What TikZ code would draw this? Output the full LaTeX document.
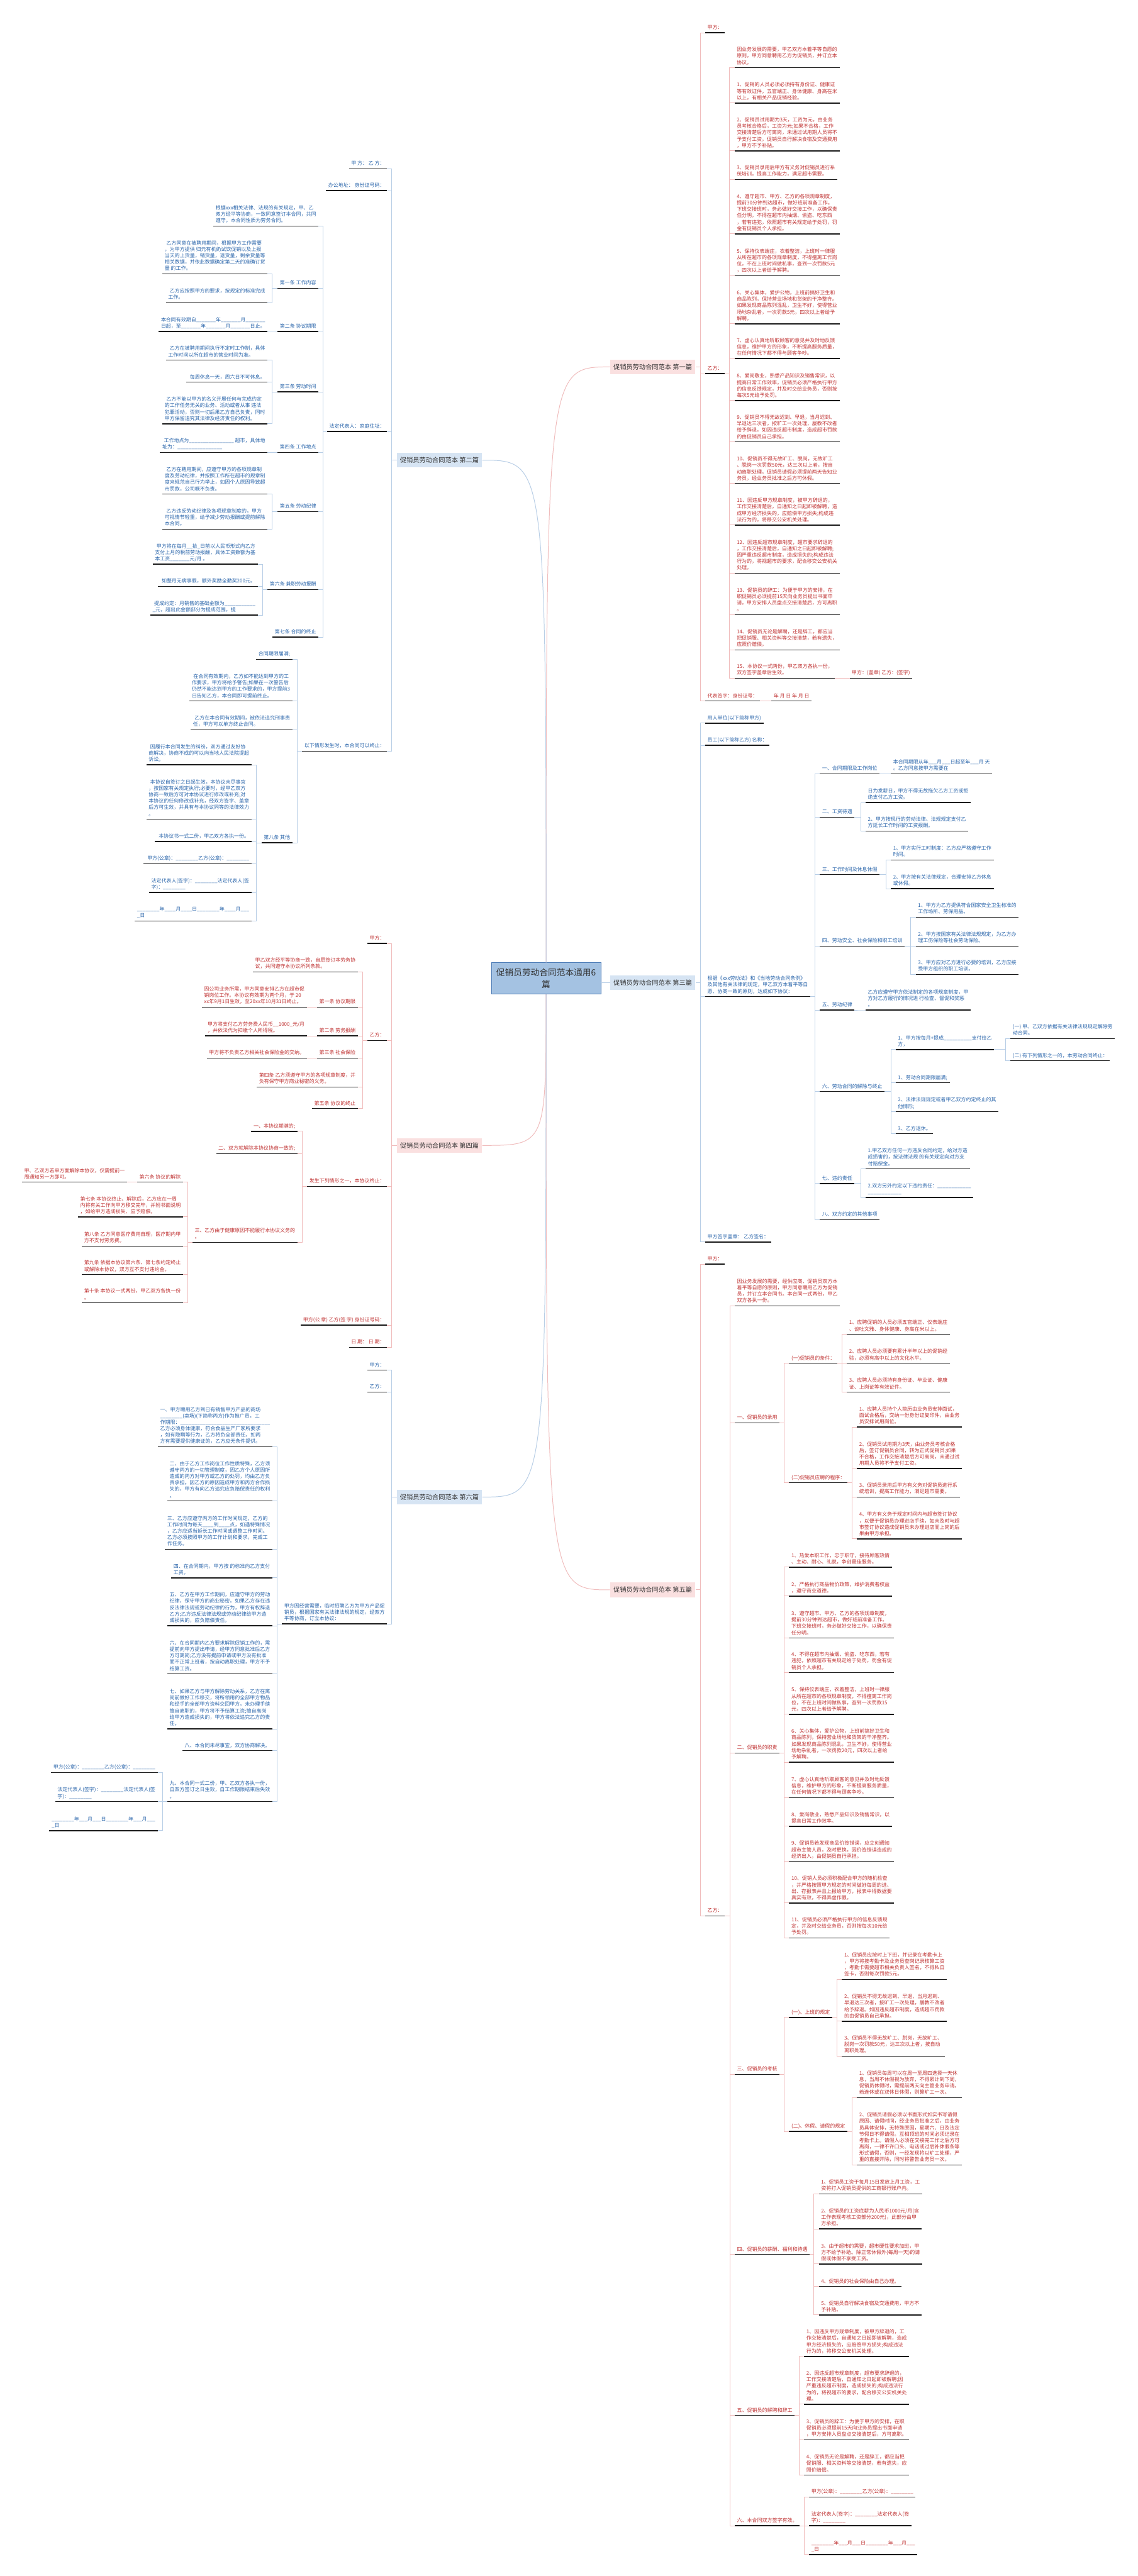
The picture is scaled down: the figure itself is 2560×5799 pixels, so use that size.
\documentclass[tikz,border=0pt]{standalone}
\usepackage{fontspec}
\setmainfont{Noto Sans CJK SC}
\definecolor{rtxt}{RGB}{192,50,50}
\definecolor{btxt}{RGB}{40,100,170}
\definecolor{rline}{RGB}{240,188,188}
\definecolor{bline}{RGB}{184,206,230}
\definecolor{rfill}{RGB}{250,224,224}
\definecolor{bfill}{RGB}{214,228,243}
\definecolor{cfill}{RGB}{164,194,226}
\definecolor{cdraw}{RGB}{74,122,181}
\definecolor{ulc}{RGB}{25,25,25}
\definecolor{lbtxt}{RGB}{51,51,51}
\tikzset{
 uline/.style={draw=ulc,line width=2pt},
 leaf/.style={inner xsep=5pt,inner ysep=3.4pt,align=left,font=\fontsize{11.3}{14.4}\selectfont,
   execute at begin node=\strut,execute at end node=\strut,
   append after command={(\tikzlastnode.south west) edge[uline] (\tikzlastnode.south east)}},
 rr/.style={leaf,text=rtxt,anchor=south west},
 rl/.style={leaf,text=rtxt,anchor=south east},
 br/.style={leaf,text=btxt,anchor=south west},
 bl/.style={leaf,text=btxt,anchor=south east},
 lab/.style={minimum width=192pt,minimum height=33pt,inner sep=0pt,font=\fontsize{14.5}{17}\selectfont,text=lbtxt},
 rlab/.style={lab,fill=rfill},
 blab/.style={lab,fill=bfill},
 cen/.style={draw=cdraw,fill=cfill,line width=1pt,minimum width=246pt,minimum height=71pt,align=center,font=\fontsize{19.4}{26.7}\selectfont,text=lbtxt},
 rc/.style={draw=rline,line width=1.4pt},
 bc/.style={draw=bline,line width=1.4pt},
}
\newcommand{\rconn}[3]{\draw[#1] (#3.south west) -- ++(-11,0) |- (#2.south east);}
\newcommand{\lconn}[3]{\draw[#1] (#3.south east) -- ++(11,0) |- (#2.south west);}
\newcommand{\rlconn}[3]{\draw[#1] (#3.south west) -- ++(-11,0) |- (#2.east);}
\newcommand{\llconn}[3]{\draw[#1] (#3.south east) -- ++(11,0) |- (#2.west);}
\newcommand{\lsp}{\hspace{3.5pt}}
\begin{document}
\begin{tikzpicture}[x=1pt,y=-1pt]
\path[use as bounding box,fill=white] (0,0) rectangle (2560,5799);
% centre and branch labels
\node[cen] (c) at (1229,2202.5) {促销员劳动合同范本通用6\\篇};
\node[rlab] (l1) at (1469,826) {促销员劳动合同范本 第一篇};
\node[blab] (l2) at (989,1036) {促销员劳动合同范本 第二篇};
\node[blab] (l3) at (1469,2212) {促销员劳动合同范本 第三篇};
\node[rlab] (l4) at (989,2578.5) {促销员劳动合同范本 第四篇};
\node[rlab] (l5) at (1469,3579) {促销员劳动合同范本 第五篇};
\node[blab] (l6) at (989,3370) {促销员劳动合同范本 第六篇};
\draw[rc] (c.north) .. controls (1229,826) .. (l1.west);
\draw[bc] (c.north) .. controls (1229,1036) .. (l2.east);
\draw[bc] (c.east |- l3.west) -- (l3.west);
\draw[rc] (c.south) .. controls (1229,2578.5) .. (l4.east);
\draw[rc] (c.south) .. controls (1229,3579) .. (l5.west);
\draw[bc] (c.south) .. controls (1229,3370) .. (l6.east);

% ===== 第一篇 =====
\node[rr] (b1a) at (1587,73.8) {甲方：};
\node[rr] (b1b) at (1587,841.2) {乙方：};
\node[rr] (b1c) at (1587,1578) {代表签字：身份证号：};
\node[rr] (b1d) at (1736,1578) {年 月 日 年 月 日};
\node[rr] (b1i0) at (1653,152.4) {因业务发展的需要，甲乙双方本着平等自愿的\\原则，甲方同意聘用乙方为促销员，并订立本\\协议。};
\node[rr] (b1i1) at (1653,232) {1、促销的人员必须必须持有身份证、健康证\\等有效证件，五官端正、身体健康、身高在米\\以上，有相关产品促销经验。};
\node[rr] (b1i2) at (1653,339.5) {2、促销员试用期为3天，工资为元，由业务\\员考核合格后，工资为元;如果不合格，工作\\交接清楚后方可离岗，未通过试用期人员将不\\予支付工资。促销员自行解决食宿及交通费用\\，甲方不予补贴。};
\node[rr] (b1i3) at (1653,404) {3、促销员录用后甲方有义务对促销员进行系\\统培训，提高工作能力，满足超市需要。};
\node[rr] (b1i4) at (1653,526.5) {4、遵守超市、甲方、乙方的各项规章制度，\\提前30分钟到达超市，做好班前准备工作。\\下班交接班时，务必做好交接工作，以确保责\\任分明。不得在超市内抽烟、偷盗、吃东西\\，若有违犯，依照超市有关规定给于处罚，罚\\金有促销员个人承担。};
\node[rr] (b1i5) at (1653,620.5) {5、保持仪表端庄，衣着整洁，上班时一律服\\从所在超市的各项规章制度，不得擅离工作岗\\位，不在上班时间做私事，查到一次罚款5元\\，四次以上者给予解聘。};
\node[rr] (b1i6) at (1653,729) {6、关心集体，爱护公物，上班前搞好卫生和\\商品陈列，保持营业场地和货架的干净整齐。\\如果发现商品陈列混乱，卫生不好，使得营业\\场地杂乱者，一次罚款5元，四次以上者给予\\解聘。};
\node[rr] (b1i7) at (1653,807) {7、虚心认真地听取顾客的意见并及时地反馈\\信息，维护甲方的形象，不断提高服务质量，\\在任何情况下都不得与顾客争吵。};
\node[rr] (b1i8) at (1653,901.8) {8、爱岗敬业，熟悉产品知识及销售常识，以\\提高日常工作效率，促销员必须严格执行甲方\\的信息反馈规定，并及时交给业务员，否则按\\每次5元给予处罚。};
\node[rr] (b1i9) at (1653,994.9) {9、促销员不得无故迟到、早退，当月迟到、\\早退达三次者，按旷工一次处理，屡教不改者\\给予辞退。如因违反超市制度，造成超市罚款\\的由促销员自己承担。};
\node[rr] (b1i10) at (1653,1088.4) {10、促销员不得无故旷工、脱岗，无故旷工\\、脱岗一次罚款50元，达三次以上者，按自\\动离职处理。促销员请假必须提前两天告知业\\务员，经业务员批准之后方可休假。};
\node[rr] (b1i11) at (1653,1182) {11、因违反甲方规章制度，被甲方辞退的，\\工作交接清楚后，自通知之日起即被解聘，造\\成甲方经济损失的，应赔偿甲方损失;构成违\\法行为的，将移交公安机关处理。};
\node[rr] (b1i12) at (1653,1290.5) {12、因违反超市规章制度，超市要求辞退的\\，工作交接清楚后，自通知之日起即被解聘;\\因严重违反超市制度，造成损失的;构成违法\\行为的，将视超市的要求，配合移交公安机关\\处理。};
\node[rr] (b1i13) at (1653,1383.6) {13、促销员的辞工：为便于甲方的安排，在\\职促销员必须提前15天向业务员提出书面申\\请，甲方安排人员盘点交接清楚后，方可离职\\。};
\node[rr] (b1i14) at (1653,1463) {14、促销员无论是解聘，还是辞工，都应当\\把促销服、相关资料等交接清楚，若有遗失，\\应照价赔偿。};
\node[rr] (b1i15) at (1653,1527) {15、本协议一式两份，甲乙双方各执一份，\\双方签字盖章后生效。};
\node[rr] (b1s) at (1912,1527) {甲方：(盖章) 乙方：(签字)};
\foreach \n in {b1a,b1b,b1c} {\rlconn{rc}{l1}{\n}}
\foreach \n in {b1i0,b1i1,b1i2,b1i3,b1i4,b1i5,b1i6,b1i7,b1i8,b1i9,b1i10,b1i11,b1i12,b1i13,b1i14,b1i15} {\rconn{rc}{b1b}{\n}}
\rconn{rc}{b1c}{b1d}
\rconn{rc}{b1i15}{b1s}

% ===== 第三篇 =====
\node[br] (b3a) at (1587,1628) {用人单位(以下简称甲方)};
\node[br] (b3b) at (1587,1677.8) {员工(以下简称乙方) 名称：};
\node[br] (b3c) at (1587,2243.4) {根据《xxx劳动法》和《当地劳动合同条例》\\及其他有关法律的规定，甲乙双方本着平等自\\愿、协商一致的原则，达成如下协议：};
\node[br] (b3d) at (1587,2796) {甲方签字盖章： 乙方签名：};
\node[br] (b3c1) at (1845,1742.2) {一、合同期限及工作岗位};
\node[br] (b3c1a) at (2005,1742.2) {本合同期限从年\_\_\_月\_\_\_日起至年\_\_\_月 天\\。乙方同意按甲方需要在};
\node[br] (b3c2) at (1845,1839.4) {二、工资待遇};
\node[br] (b3c2a) at (1948,1806.7) {日为发薪日，甲方不得无故拖欠乙方工资或拒\\绝支付乙方工资。};
\node[br] (b3c2b) at (1948,1870.8) {2、甲方按现行的劳动法律、法规规定支付乙\\方延长工作时间的工资报酬。};
\node[br] (b3c3) at (1845,1968.8) {三、工作时间及休息休假};
\node[br] (b3c3a) at (2005,1936) {1、甲方实行工时制度：乙方应严格遵守工作\\时间。};
\node[br] (b3c3b) at (2005,2000.6) {2、甲方按有关法律规定，合理安排乙方休息\\或休假。};
\node[br] (b3c4) at (1845,2130) {四、劳动安全、社会保险和职工培训};
\node[br] (b3c4a) at (2061,2065) {1、甲方为乙方提供符合国家安全卫生标准的\\工作场所、劳保用品。};
\node[br] (b3c4b) at (2061,2130) {2、甲方按国家有关法律法规规定，为乙方办\\理工伤保险等社会劳动保险。};
\node[br] (b3c4c) at (2061,2193.7) {3、甲方应对乙方进行必要的培训，乙方应接\\受甲方组织的职工培训。};
\node[br] (b3c5) at (1845,2273.7) {五、劳动纪律};
\node[br] (b3c5a) at (1948,2273.7) {乙方应遵守甲方依法制定的各项规章制度，甲\\方对乙方履行的情况进 行检查、督促和奖惩\\。};
\node[br] (b3c6) at (1845,2457.4) {六、劳动合同的解除与终止};
\node[br] (b3c6a) at (2015.7,2362.8) {1、甲方按每月+提成\_\_\_\_\_\_\_\_\_\_支付给乙\\方，};
\node[br] (b3c6a1) at (2274,2338) {(一) 甲、乙双方依据有关法律法规规定解除劳\\动合同。};
\node[br] (b3c6a2) at (2274,2388) {(二) 有下列情形之一的，本劳动合同终止：};
\node[br] (b3c6b) at (2015.7,2437.5) {1、劳动合同期限届满;};
\node[br] (b3c6c) at (2015.7,2502.5) {2、法律法规规定或者甲乙双方约定终止的其\\他情形;};
\node[br] (b3c6d) at (2015.7,2552.3) {3、乙方退休。};
\node[br] (b3c7) at (1845,2664.4) {七、违约责任};
\node[br] (b3c7a) at (1948,2631.5) {1.甲乙双方任何一方违反合同约定，给对方造\\成损害的，按法律法规 的有关规定向对方支\\付赔偿金。};
\node[br] (b3c7b) at (1948,2695.8) {2.双方另外约定以下违约责任：\_\_\_\_\_\_\_\_\_\_\_\_\\\_\_\_\_\_\_\_\_\_\_\_\_};
\node[br] (b3c8) at (1845,2745.5) {八、双方约定的其他事项};
\foreach \n in {b3a,b3b,b3c,b3d} {\rlconn{bc}{l3}{\n}}
\foreach \n in {b3c1,b3c2,b3c3,b3c4,b3c5,b3c6,b3c7,b3c8} {\rconn{bc}{b3c}{\n}}
\rconn{bc}{b3c1}{b3c1a}
\rconn{bc}{b3c2}{b3c2a}
\rconn{bc}{b3c2}{b3c2b}
\rconn{bc}{b3c3}{b3c3a}
\rconn{bc}{b3c3}{b3c3b}
\foreach \n in {b3c4a,b3c4b,b3c4c} {\rconn{bc}{b3c4}{\n}}
\rconn{bc}{b3c5}{b3c5a}
\foreach \n in {b3c6a,b3c6b,b3c6c,b3c6d} {\rconn{bc}{b3c6}{\n}}
\rconn{bc}{b3c6a}{b3c6a1}
\rconn{bc}{b3c6a}{b3c6a2}
\rconn{bc}{b3c7}{b3c7a}
\rconn{bc}{b3c7}{b3c7b}

% ===== 第五篇 =====
\node[rr] (b5a) at (1587,2845.7) {甲方：};
\node[rr] (b5b) at (1587,4312.7) {乙方：};
\node[rr] (b5i0) at (1653.7,2939.4) {因业务发展的需要，经供应商、促销员双方本\\着平等自愿的原则，甲方同意聘用乙方为促销\\员，并订立本合同书。本合同一式两份，甲乙\\双方各执一份。};
\node[rr] (b5i1) at (1653.7,3202.8) {一、促销员的录用};
\node[rr] (b5i1a) at (1776,3068.9) {(一)促销员的条件：};
\node[rr] (b5i1a1) at (1906,3003.8) {1、应聘促销的人员必须五官端正、仪表端庄\\、谈吐文雅、身体健康、身高在米以上。};
\node[rr] (b5i1a2) at (1906,3068.9) {2、应聘人员必须要有累计半年以上的促销经\\验，必须有高中以上的文化水平。};
\node[rr] (b5i1a3) at (1906,3134) {3、应聘人员必须持有身份证、毕业证、健康\\证、上岗证等有效证件。};
\node[rr] (b5i1b) at (1776,3338) {(二)促销员应聘的程序：};
\node[rr] (b5i1b1) at (1928.5,3212.4) {1、应聘人员持个人简历由业务员安排面试，\\面试合格后，交纳一份身份证复印件，由业务\\员安排试用岗位。};
\node[rr] (b5i1b2) at (1928.5,3306) {2、促销员试用期为3天，由业务员考核合格\\后，签订促销员合同，转为正式促销员;如果\\不合格，工作交接清楚后方可离岗，未通过试\\用期人员将不予支付工资。};
\node[rr] (b5i1b3) at (1928.5,3369.9) {3、促销员录用后甲方有义务对促销员进行系\\统培训，提高工作能力，满足超市需要。};
\node[rr] (b5i1b4) at (1928.5,3464.3) {4、甲方有义务于规定时间内与超市签订协议\\，以便于促销员办理进店手续，如未及时与超\\市签订协议造成促销员未办理进店而上岗的后\\果由甲方承担。};
\node[rr] (b5i2) at (1653.7,3946) {二、促销员的职责};
\node[rr] (b5e1) at (1776,3528) {1、热爱本职工作，忠于职守，接待顾客热情\\、主动、耐心、礼貌，争创最佳服务。};
\node[rr] (b5e2) at (1776,3593) {2、严格执行商品物价政策，维护消费者权益\\，遵守商业道德。};
\node[rr] (b5e3) at (1776,3687.5) {3、遵守超市、甲方、乙方的各项规章制度，\\提前30分钟到达超市，做好班前准备工作。\\下班交接班时，务必做好交接工作，以确保责\\任分明。};
\node[rr] (b5e4) at (1776,3765.5) {4、不得在超市内抽烟、偷盗、吃东西，若有\\违犯，依照超市有关规定给于处罚，罚金有促\\销员个人承担。};
\node[rr] (b5e5) at (1776,3859.3) {5、保持仪表端庄，衣着整洁，上班时一律服\\从所在超市的各项规章制度，不得擅离工作岗\\位，不在上班时间做私事，查到一次罚款15\\元，四次以上者给予解聘。};
\node[rr] (b5e6) at (1776,3967) {6、关心集体，爱护公物，上班前搞好卫生和\\商品陈列，保持营业场地和货架的干净整齐。\\如果发现商品陈列混乱，卫生不好，使得营业\\场地杂乱者，一次罚款20元，四次以上者给\\予解聘。};
\node[rr] (b5e7) at (1776,4046.8) {7、虚心认真地听取顾客的意见并及时地反馈\\信息，维护甲方的形象，不断提高服务质量，\\在任何情况下都不得与顾客争吵。};
\node[rr] (b5e8) at (1776,4111.2) {8、爱岗敬业，熟悉产品知识及销售常识，以\\提高日常工作效率。};
\node[rr] (b5e9) at (1776,4190.3) {9、促销员若发现商品价签错误，应立刻通知\\超市主管人员，及时更换，因价签错误造成的\\经济出入，由促销员自行承担。};
\node[rr] (b5e10) at (1776,4284) {10、促销人员必须积极配合甲方的随机检查\\，并严格按照甲方规定的时间做好每周的进、\\出、存报表并且上报给甲方，报表中得数据要\\真实有效，不得弄虚作假。};
\node[rr] (b5e11) at (1776,4362.4) {11、促销员必须严格执行甲方的信息反馈规\\定，并及时交给业务员，否则按每次10元给\\予处罚。};
\node[rr] (b5i3) at (1653.7,4669.8) {三、促销员的考核};
\node[rr] (b5i3a) at (1776,4541.7) {(一)、上班的规定};
\node[rr] (b5i3a1) at (1894.8,4456.2) {1、促销员应按时上下班，并记录在考勤卡上\\，甲方将按考勤卡及业务员查岗记录核算工资\\，考勤卡需要超市相关负责人签名，不得私自\\签卡，否则每次罚款5元。};
\node[rr] (b5i3a2) at (1894.8,4550) {2、促销员不得无故迟到、早退，当月迟到、\\早退达三次者，按旷工一次处理，屡教不改者\\给予辞退。如因违反超市制度，造成超市罚款\\的由促销员自己承担。};
\node[rr] (b5i3a3) at (1894.8,4628.4) {3、促销员不得无故旷工、脱岗，无故旷工、\\脱岗一次罚款50元，达三次以上者，按自动\\离职处理。};
\node[rr] (b5i3b) at (1776,4798.2) {(二)、休假、请假的规定};
\node[rr] (b5i3b1) at (1928.5,4722) {1、促销员每周可以在周一至周四选择一天休\\息，当周不休假视为放弃，不得累计到下周，\\促销员休假时，需提前两天向主管业务申请。\\若连休或在双休日休假，则算旷工一次。};
\node[rr] (b5i3b2) at (1928.5,4873.8) {2、促销员请假必须以书面形式如实书写请假\\原因、请假时间，经业务员批准之后，由业务\\员具体安排，无特殊原因，星期六、日及法定\\节假日不得请假。互相顶班的时间必须记录在\\考勤卡上。请假人必须在交接完工作之后方可\\离岗，一律不许口头、电话或过后补休假条等\\形式请假，否则，一经发现将以旷工处理，严\\重的直接开除，同时将警告业务员一次。};
\node[rr] (b5i4) at (1653.7,5075) {四、促销员的薪酬、福利和待遇};
\node[rr] (b5i4a) at (1842.8,4938.6) {1、促销员工资于每月15日发放上月工资，工\\资将打入促销员提供的工商银行账户内。};
\node[rr] (b5i4b) at (1842.8,5017.7) {2、促销员的工资底薪为人民币1000元/月(含\\工作表现考核工资部分200元)，此部分由甲\\方承担。};
\node[rr] (b5i4c) at (1842.8,5096.7) {3、由于超市的需要，超市硬性要求加班，甲\\方不给予补助。除正常休假外(每周一天)的请\\假或休假不享受工资。};
\node[rr] (b5i4d) at (1842.8,5147.2) {4、促销员的社会保险由自己办理。};
\node[rr] (b5i4e) at (1842.8,5211.3) {5、促销员自行解决食宿及交通费用，甲方不\\予补贴。};
\node[rr] (b5i5) at (1653.7,5437.6) {五、促销员的解聘和辞工};
\node[rr] (b5i5a) at (1809.6,5304.6) {1、因违反甲方规章制度，被甲方辞退的，工\\作交接清楚后，自通知之日起即被解聘，造成\\甲方经济损失的，应赔偿甲方损失;构成违法\\行为的，将移交公安机关处理。};
\node[rr] (b5i5b) at (1809.6,5412.3) {2、因违反超市规章制度，超市要求辞退的，\\工作交接清楚后，自通知之日起即被解聘;因\\严重违反超市制度，造成损失的;构成违法行\\为的，将视超市的要求，配合移交公安机关处\\理。};
\node[rr] (b5i5c) at (1809.6,5492.1) {3、促销员的辞工：为便于甲方的安排，在职\\促销员必须提前15天向业务员提出书面申请\\，甲方安排人员盘点交接清楚后，方可离职。};
\node[rr] (b5i5d) at (1809.6,5571.9) {4、促销员无论是解聘，还是辞工，都应当把\\促销服、相关资料等交接清楚，若有遗失，应\\照价赔偿。};
\node[rr] (b5i6) at (1653.7,5685.7) {六、本合同双方签字有效。};
\node[rr] (b5i6a) at (1820.8,5621) {甲方(公章)：\_\_\_\_\_\_\_\_乙方(公章)：\_\_\_\_\_\_\_\_};
\node[rr] (b5i6b) at (1820.8,5685.7) {法定代表人(签字)：\_\_\_\_\_\_\_\_法定代表人(签\\字)：\_\_\_\_\_\_\_\_};
\node[rr] (b5i6c) at (1820.8,5750.5) {\_\_\_\_\_\_\_\_年\_\_\_月\_\_\_日\_\_\_\_\_\_\_\_年\_\_\_月\_\_\_\\\_日};
\rlconn{rc}{l5}{b5a}
\rlconn{rc}{l5}{b5b}
\foreach \n in {b5i0,b5i1,b5i2,b5i3,b5i4,b5i5,b5i6} {\rconn{rc}{b5b}{\n}}
\rconn{rc}{b5i1}{b5i1a}
\rconn{rc}{b5i1}{b5i1b}
\foreach \n in {b5i1a1,b5i1a2,b5i1a3} {\rconn{rc}{b5i1a}{\n}}
\foreach \n in {b5i1b1,b5i1b2,b5i1b3,b5i1b4} {\rconn{rc}{b5i1b}{\n}}
\foreach \n in {b5e1,b5e2,b5e3,b5e4,b5e5,b5e6,b5e7,b5e8,b5e9,b5e10,b5e11} {\rconn{rc}{b5i2}{\n}}
\rconn{rc}{b5i3}{b5i3a}
\rconn{rc}{b5i3}{b5i3b}
\foreach \n in {b5i3a1,b5i3a2,b5i3a3} {\rconn{rc}{b5i3a}{\n}}
\foreach \n in {b5i3b1,b5i3b2} {\rconn{rc}{b5i3b}{\n}}
\foreach \n in {b5i4a,b5i4b,b5i4c,b5i4d,b5i4e} {\rconn{rc}{b5i4}{\n}}
\foreach \n in {b5i5a,b5i5b,b5i5c,b5i5d} {\rconn{rc}{b5i5}{\n}}
\foreach \n in {b5i6a,b5i6b,b5i6c} {\rconn{rc}{b5i6}{\n}}

% ===== 第二篇 =====
\node[bl] (b2a) at (871,380) {甲 方： 乙 方：};
\node[bl] (b2b) at (871,429) {办公地址：  身份证号码：};
\node[bl] (b2c) at (871,971.5) {法定代表人：家庭住址：};
\node[bl] (b2d) at (871,1691) {以下情形发生时，本合同可以终止：};
\node[bl] (b2c0) at (716.6,508.6) {根据xxx相关法律、法规的有关规定，甲、乙\\双方经平等协商，一致同意签订本合同，共同\\遵守。本合同性质为劳务合同。};
\node[bl] (b2c1) at (716.6,649.2) {第一条 工作内容};
\node[bl] (b2c1a) at (602,616.6) {\lsp 乙方同意在被聘用期间，根据甲方工作需要\\，为甲方提供 归元有机奶试饮促销以及上报\\当天的上货量，销货量，退货量，剩余货量等\\相关数据，并依此数据确定第二天的准确订货\\量 的工作。};
\node[bl] (b2c1b) at (602,681.3) {\lsp 乙方应按照甲方的要求，按规定的标准完成\\工作。};
\node[bl] (b2c2) at (716.6,746) {第二条 协议期限};
\node[bl] (b2c2a) at (602,746) {本合同有效期自\_\_\_\_\_\_\_年\_\_\_\_\_\_\_月\_\_\_\_\_\_\_\\日起，至\_\_\_\_\_\_\_年\_\_\_\_\_\_\_月\_\_\_\_\_\_\_日止。};
\node[bl] (b2c3) at (716.6,882.2) {第三条 劳动时间};
\node[bl] (b2c3a) at (602,810.8) {\lsp 乙方在被聘用期间执行不定时工作制，具体\\工作时间以所在超市的营业时间为准。};
\node[bl] (b2c3b) at (602,860.4) {\lsp 每周休息一天，周六日不可休息。};
\node[bl] (b2c3c) at (602,954) {\lsp 乙方不能以甲方的名义开展任何与完成约定\\的工作任务无关的业务、活动或者从事 违法\\犯罪活动，否则一切后果乙方自己负责，同时\\甲方保留追究其法律及经济责任的权利。};
\node[bl] (b2c4) at (716.6,1018.4) {第四条 工作地点};
\node[bl] (b2c4a) at (602,1018.4) {\lsp 工作地点为\_\_\_\_\_\_\_\_\_\_\_\_\_\_\_\_ 超市，具体地\\址为：\_\_\_\_\_\_\_\_\_\_\_\_\_\_\_\_};
\node[bl] (b2c5) at (716.6,1151.7) {第五条 劳动纪律};
\node[bl] (b2c5a) at (602,1112.4) {\lsp 乙方在聘用期间，应遵守甲方的各项规章制\\度及劳动纪律，并按照工作所在超市的规章制\\度来规范自己行为举止，如因个人原因导致超\\市罚款，公司概不负责。};
\node[bl] (b2c5b) at (602,1191) {\lsp 乙方违反劳动纪律及各项规章制度的，甲方\\可视情节轻重，给予减少劳动报酬或提前解除\\本合同。};
\node[bl] (b2c6) at (716.6,1327) {第六条 兼职劳动报酬};
\node[bl] (b2c6a) at (580,1270) {\lsp 甲方将在每月\_\_拾\_日前以人民币形式向乙方\\支付上月的税前劳动报酬，具体工资数额为基\\本工资\_\_\_\_\_\_\_元/月 。};
\node[bl] (b2c6b) at (580,1320) {\lsp 如整月无病事假，额外奖励全勤奖200元。};
\node[bl] (b2c6c) at (580,1384.7) {\lsp 提成约定：月销售的基础金额为\_\_\_\_\_\_\_\_\_\_\_\\\_元，超出此金额部分为提成范围，提};
\node[bl] (b2c7) at (716.6,1434.3) {第七条 合同的终止};
\node[bl] (b2d1) at (658,1484.3) {合同期限届满;};
\node[bl] (b2d2) at (658,1578) {\lsp 在合同有效期内，乙方如不能达到甲方的工\\作要求，甲方将给予警告;如果在一次警告后\\仍然不能达到甲方的工作要求的，甲方提前3\\日告知乙方，本合同即可提前终止。};
\node[bl] (b2d3) at (658,1642.8) {\lsp 乙方在本合同有效期间，被依法追究刑事责\\任，甲方可以单方终止合同。};
\node[bl] (b2d4) at (658,1897.3) {第八条 其他};
\node[bl] (b2d4a) at (566,1721.7) {\lsp 因履行本合同发生的纠纷，双方通过友好协\\商解决，协商不成的可以向当地人民法院提起\\诉讼。};
\node[bl] (b2d4b) at (566,1844.3) {\lsp 本协议自签订之日起生效，本协议未尽事宜\\，按国家有关规定执行;必要时，经甲乙双方\\协商一致后方可对本协议进行修改或补充;对\\本协议的任何修改或补充，经双方签字、盖章\\后方可生效，并具有与本协议同等的法律效力\\。};
\node[bl] (b2d4c) at (566,1894.3) {\lsp 本协议书一式二份，甲乙双方各执一份。};
\node[bl] (b2d4d) at (566,1944.3) {\lsp 甲方(公章)：\_\_\_\_\_\_\_\_乙方(公章)：\_\_\_\_\_\_\_\_};
\node[bl] (b2d4e) at (566,2009) {法定代表人(签字)：\_\_\_\_\_\_\_\_法定代表人(签\\字)：\_\_\_\_\_\_\_\_};
\node[bl] (b2d4f) at (566,2073.3) {\_\_\_\_\_\_\_\_年\_\_\_\_月\_\_\_\_日\_\_\_\_\_\_\_\_年\_\_\_\_月\_\_\_\\\_日};
\foreach \n in {b2a,b2b,b2c,b2d} {\llconn{bc}{l2}{\n}}
\foreach \n in {b2c0,b2c1,b2c2,b2c3,b2c4,b2c5,b2c6,b2c7} {\lconn{bc}{b2c}{\n}}
\lconn{bc}{b2c1}{b2c1a}
\lconn{bc}{b2c1}{b2c1b}
\lconn{bc}{b2c2}{b2c2a}
\foreach \n in {b2c3a,b2c3b,b2c3c} {\lconn{bc}{b2c3}{\n}}
\lconn{bc}{b2c4}{b2c4a}
\lconn{bc}{b2c5}{b2c5a}
\lconn{bc}{b2c5}{b2c5b}
\foreach \n in {b2c6a,b2c6b,b2c6c} {\lconn{bc}{b2c6}{\n}}
\foreach \n in {b2d1,b2d2,b2d3,b2d4} {\lconn{bc}{b2d}{\n}}
\foreach \n in {b2d4a,b2d4b,b2d4c,b2d4d,b2d4e,b2d4f} {\lconn{bc}{b2d4}{\n}}

% ===== 第四篇 =====
\node[rl] (b4a) at (871,2123.75) {甲方：};
\node[rl] (b4b) at (871,2342.5) {乙方：};
\node[rl] (b4c) at (871,2670.6) {发生下列情形之一，本协议终止：};
\node[rl] (b4d) at (871,2983) {甲方(公 章) 乙方(签 字) 身份证号码：};
\node[rl] (b4e) at (871,3033) {日 期：  日 期：};
\node[rl] (b4b0) at (805.4,2188) {甲乙双方经平等协商一致，自愿签订本劳务协\\议，共同遵守本协议所列条款。};
\node[rl] (b4b1) at (805.4,2267) {第一条 协议期限};
\node[rl] (b4b1a) at (690.6,2267) {因公司业务所需，甲方同意安排乙方在超市促\\销岗位工作。本协议有效期为两个月，于 20\\xx年9月1日生效，至20xx年10月31日终止。};
\node[rl] (b4b2) at (805.4,2332) {第二条 劳务报酬};
\node[rl] (b4b2a) at (690.6,2332) {甲方将支付乙方劳务费人民币\_\_1000\_元/月\\，并依法代为扣缴个人所得税。};
\node[rl] (b4b3) at (805.4,2382) {第三条 社会保险};
\node[rl] (b4b3a) at (690.6,2382) {甲方将不负责乙方相关社会保险金的交纳。};
\node[rl] (b4b4) at (805.4,2446.9) {第四条 乙方须遵守甲方的各项规章制度，并\\负有保守甲方商业秘密的义务。};
\node[rl] (b4b5) at (805.4,2495.6) {第五条 协议的终止};
\node[rl] (b4c1) at (669.4,2546.9) {一、本协议期满的;};
\node[rl] (b4c2) at (669.4,2596.9) {二、双方就解除本协议协商一致的;};
\node[rl] (b4c3) at (669.4,2796.9) {三、乙方由于健康原因不能履行本协议义务的\\。};
\node[rl] (b4c3a) at (412,2661.3) {第六条 协议的解除};
\node[rl] (b4c3a1) at (285.9,2661.3) {甲、乙双方若单方面解除本协议，仅需提前一\\周通知另一方即可。};
\node[rl] (b4c3b) at (412,2739.4) {第七条 本协议终止、解除后，乙方应在一周\\内将有关工作向甲方移交完毕，并附书面说明\\，如给甲方造成损失、应予赔偿。};
\node[rl] (b4c3c) at (412,2805) {第八条 乙方同意医疗费用自理，医疗期内甲\\方不支付劳务费。};
\node[rl] (b4c3d) at (412,2869.4) {第九条 依据本协议第六条、第七条约定终止\\或解除本协议，双方互不支付违约金。};
\node[rl] (b4c3e) at (412,2933) {第十条 本协议一式两份，甲乙双方各执一份\\。};
\foreach \n in {b4a,b4b,b4c,b4d,b4e} {\llconn{rc}{l4}{\n}}
\foreach \n in {b4b0,b4b1,b4b2,b4b3,b4b4,b4b5} {\lconn{rc}{b4b}{\n}}
\lconn{rc}{b4b1}{b4b1a}
\lconn{rc}{b4b2}{b4b2a}
\lconn{rc}{b4b3}{b4b3a}
\foreach \n in {b4c1,b4c2,b4c3} {\lconn{rc}{b4c}{\n}}
\foreach \n in {b4c3a,b4c3b,b4c3c,b4c3d,b4c3e} {\lconn{rc}{b4c3}{\n}}
\lconn{rc}{b4c3a}{b4c3a1}

% ===== 第六篇 =====
\node[bl] (b6a) at (871,3084.4) {甲方：};
\node[bl] (b6b) at (871,3133.5) {乙方：};
\node[bl] (b6c) at (871,3655.7) {甲方因经营需要，临时招聘乙方为甲方产品促\\销员，根据国家有关法律法规的规定，经双方\\平等协商，订立本协议：};
\node[bl] (b6c1) at (613,3257) {一、甲方聘用乙方到已有销售甲方产品的商场\\\_\_\_\_\_\_\_\_(卖场)(下简称丙方)作为推广员，工\\作期限：\_\_\_\_\_\_\_\_\_\_\_\_\_\_\_\_\_\_\_\_\_\_\_\_\_\_\_\_\_\_\_\_\\乙方必须身体健康，符合食品生产厂家所要求\\，如有隐瞒等行为，乙方将负全部责任。如丙\\方有需要提供健康证的，乙方应无条件提供。};
\node[bl] (b6c2) at (613,3379) {二、由于乙方工作岗位工作性质特殊，乙方须\\遵守丙方的一切管理制度，因乙方个人原因所\\造成的丙方对甲方或乙方的处罚，均由乙方负\\责承担。因乙方的原因造成甲方和丙方合作损\\失的，甲方有向乙方追究应负赔偿责任的权利\\。};
\node[bl] (b6c3) at (613,3487.8) {三、乙方应遵守丙方的工作时间规定，乙方的\\工作时间为每天\_\_\_\_到\_\_\_\_点，如遇特殊情况\\，乙方应适当延长工作时间或调整工作时间。\\乙方必须按照甲方的工作计划和要求，完成工\\作任务。};
\node[bl] (b6c4) at (613,3552) {四、在合同期内，甲方按 的标准向乙方支付\\工资。};
\node[bl] (b6c5) at (613,3659.8) {五、乙方在甲方工作期间，应遵守甲方的劳动\\纪律，保守甲方的商业秘密。如果乙方存在违\\反法律法规或劳动纪律的行为，甲方有权辞退\\乙方;乙方违反法律法规或劳动纪律给甲方造\\成损失的，应负赔偿责任。};
\node[bl] (b6c6) at (613,3768.3) {六、在合同期内乙方要求解除促销工作的，需\\提前向甲方提出申请，经甲方同意批准后乙方\\方可离岗;乙方没有提前申请或甲方没有批准\\而不正常上班者，按自动离职处理，甲方不予\\结算工资。};
\node[bl] (b6c7) at (613,3892) {七、如果乙方与甲方解除劳动关系，乙方在离\\岗前做好工作移交，将所领用的全部甲方物品\\和经手的全部甲方资料交回甲方。未办理手续\\擅自离职的，甲方将不予结算工资;擅自离岗\\给甲方造成损失的，甲方将依法追究乙方的责\\任。};
\node[bl] (b6c8) at (613,3941) {八、本合同未尽事宜，双方协商解决。};
\node[bl] (b6c9) at (613,4055.7) {九、本合同一式二份，甲、乙双方各执一份，\\自双方签订之日生效，自工作期限结束后失效\\。};
\node[bl] (b6c9a) at (354.8,3990) {甲方(公章)：\_\_\_\_\_\_\_\_乙方(公章)：\_\_\_\_\_\_\_\_};
\node[bl] (b6c9b) at (354.8,4055.7) {法定代表人(签字)：\_\_\_\_\_\_\_\_法定代表人(签\\字)：\_\_\_\_\_\_\_\_};
\node[bl] (b6c9c) at (354.8,4121) {\_\_\_\_\_\_\_\_年\_\_\_月\_\_\_日\_\_\_\_\_\_\_\_年\_\_\_月\_\_\_\\\_日};
\foreach \n in {b6a,b6b,b6c} {\llconn{bc}{l6}{\n}}
\foreach \n in {b6c1,b6c2,b6c3,b6c4,b6c5,b6c6,b6c7,b6c8,b6c9} {\lconn{bc}{b6c}{\n}}
\foreach \n in {b6c9a,b6c9b,b6c9c} {\lconn{bc}{b6c9}{\n}}
\end{tikzpicture}
\end{document}
